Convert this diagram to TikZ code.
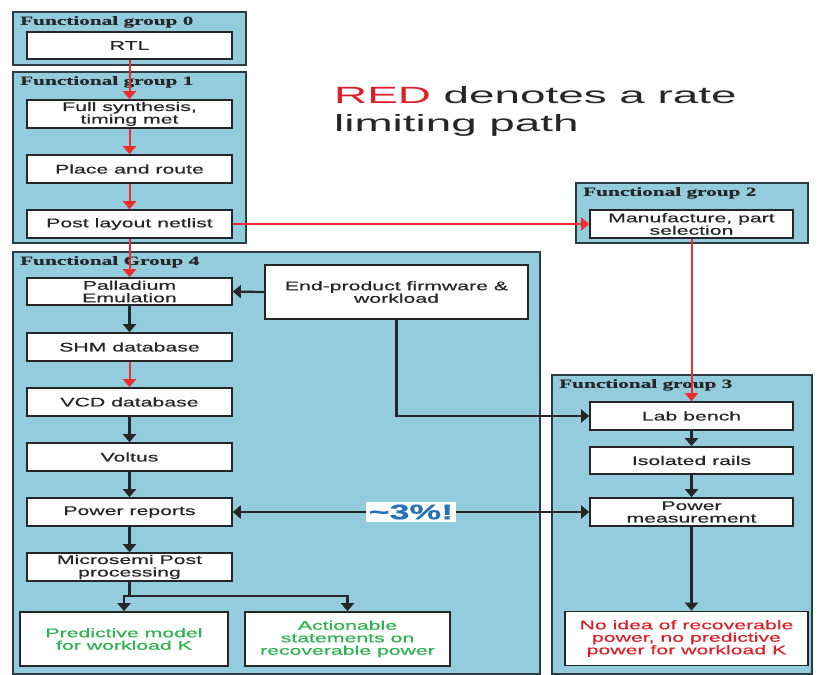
\documentclass[tikz,border=0pt]{standalone}
\usepackage{fontspec}
\setmainfont[FakeStretch=1.7,FakeBold=0.6]{Liberation Sans}
\newfontfamily\titlefont[FakeStretch=1.7,FakeBold=0.4]{Liberation Serif}
\newfontfamily\legendfont[FakeStretch=1.95]{Liberation Sans}
\usetikzlibrary{arrows.meta}
\definecolor{grpfill}{HTML}{93CDDD}
\definecolor{grpline}{HTML}{2E3B41}
\definecolor{redpath}{HTML}{EE2D2D}
\definecolor{darkline}{HTML}{262626}
\definecolor{greentxt}{HTML}{2DB34E}
\definecolor{redtxt}{HTML}{DD1F2A}
\definecolor{bluetxt}{HTML}{2472BC}
\tikzset{
  grp/.style={draw=grpline, fill=grpfill, line width=2.2pt},
  grptitle/.style={anchor=north west, inner sep=0pt, font=\titlefont\bfseries\fontsize{12.5}{12.5}\selectfont, text=black!85},
  stepbox/.style={draw=darkline, fill=white, line width=1.7pt, inner sep=0pt, align=center,
    minimum width=205pt, minimum height=28pt, font=\fontsize{12.5}{12.5}\selectfont, text=black!85},
  redarrow/.style={draw=redpath, line width=2pt, -{Triangle[length=8pt,width=13pt]}},
  blkarrow/.style={draw=darkline, line width=2.2pt, -{Triangle[length=8pt,width=13pt]}},
  blkline/.style={draw=darkline, line width=2.2pt},
}
\begin{document}
\begin{tikzpicture}[x=1pt,y=-1pt]
\useasboundingbox (0,0) rectangle (820,675);
% groups
\draw[grp] (13,12) rectangle (246,65);
\node[grptitle] (t0) at (20,16) {Functional group 0};
\draw[grp] (13,72) rectangle (246,243);
\node[grptitle] (t1) at (20,76) {Functional group 1};
\draw[grp] (576,183) rectangle (808,243);
\node[grptitle] (t2) at (583,187) {Functional group 2};
\draw[grp] (13,252) rectangle (540,674);
\node[grptitle] (t4) at (20,256) {Functional Group 4};
\draw[grp] (552,375) rectangle (812,674);
\node[grptitle] (t3) at (559,379) {Functional group 3};

% boxes
\node[stepbox, minimum height=27pt] (rtl) at (129.5,45.5) {RTL};
\node[stepbox] (fullsyn) at (129.5,114) {Full synthesis,\\timing met};
\node[stepbox] (pnr) at (129.5,169) {Place and route};
\node[stepbox] (post) at (129.5,224) {Post layout netlist};
\node[stepbox, minimum width=203pt] (manuf) at (691.5,224) {Manufacture, part\\selection};
\node[stepbox, minimum height=27pt] (pall) at (129.5,291.5) {Palladium\\Emulation};
\node[stepbox, minimum width=263pt, minimum height=54pt] (endp) at (396.5,292) {End-product firmware \&\\workload};
\node[stepbox] (shm) at (129.5,347) {SHM database};
\node[stepbox] (vcd) at (129.5,402) {VCD database};
\node[stepbox] (voltus) at (129.5,457) {Voltus};
\node[stepbox] (powrep) at (129.5,512) {Power reports};
\node[stepbox] (micro) at (129.5,567) {Microsemi Post\\processing};
\node[stepbox, minimum width=208pt, minimum height=54pt, text=greentxt] (pred) at (124,639) {Predictive model\\for workload K};
\node[stepbox, minimum height=54pt, text=greentxt] (action) at (347.5,639) {Actionable\\statements on\\recoverable power};
\node[stepbox, minimum width=203pt] (lab) at (691.5,416) {Lab bench};
\node[stepbox, minimum width=203pt, minimum height=27pt] (rails) at (691.5,460.5) {Isolated rails};
\node[stepbox, minimum width=203pt] (powmeas) at (691.5,512) {Power\\measurement};
\node[stepbox, minimum width=243pt, minimum height=54pt, text=redtxt] (noidea) at (686.5,638.5) {No idea of recoverable\\power, no predictive\\power for workload K};

% legend text
\node[anchor=north west, inner sep=0pt, align=left, font=\legendfont\fontsize{23.5}{28}\selectfont, text=black!85] (legend) at (334,86) {\textcolor{redtxt}{RED} denotes a rate\\limiting path};

% red path
\draw[redarrow] (rtl.south) -- (fullsyn.north);
\draw[redarrow] (fullsyn.south) -- (pnr.north);
\draw[redarrow] (pnr.south) -- (post.north);
\draw[redarrow] (post.south) -- (pall.north);
\draw[redarrow] (post.east) -- (manuf.west);
\draw[redarrow] (manuf.south) -- (lab.north);
\draw[redarrow] (shm.south) -- (vcd.north);

% black arrows
\draw[blkarrow] (endp.west) -- (pall.east);
\draw[blkarrow] (endp.south) |- (lab.west);
\draw[blkarrow] (pall.south) -- (shm.north);
\draw[blkarrow] (vcd.south) -- (voltus.north);
\draw[blkarrow] (voltus.south) -- (powrep.north);
\draw[blkarrow] (powrep.south) -- (micro.north);
\coordinate (br) at (129.5,596);
\draw[blkline] (micro.south) -- (br);
\draw[blkarrow] (br) -| (pred.north);
\draw[blkarrow] (br) -| (action.north);
\draw[blkarrow] (lab.south) -- (rails.north);
\draw[blkarrow] (rails.south) -- (powmeas.north);
\draw[blkarrow] (powmeas.south) -- (powmeas.south |- noidea.north);
\draw[blkline, {Triangle[length=8pt,width=13pt]}-{Triangle[length=8pt,width=13pt]}] (powrep.east) -- (powmeas.west)
  node[pos=0.5, fill=white, inner sep=2.5pt, text=bluetxt, font=\bfseries\fontsize{21}{21}\selectfont] (pct) {\textasciitilde3\%!};
\end{tikzpicture}
\end{document}
